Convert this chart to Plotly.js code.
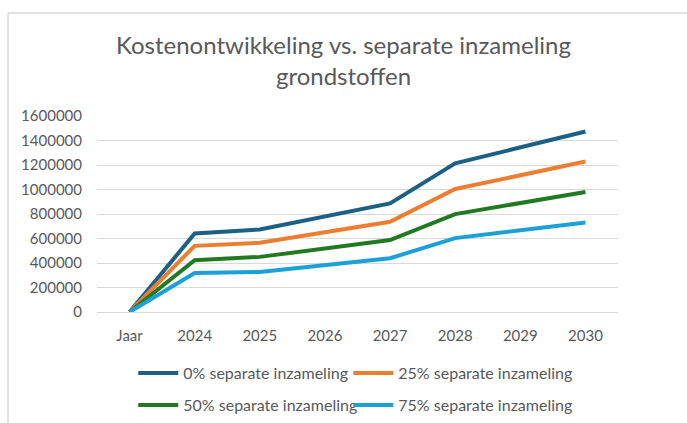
<!DOCTYPE html>
<html><head><meta charset="utf-8">
<script src="https://cdn.plot.ly/plotly-3.0.1.min.js"></script>
<style>html,body{margin:0;padding:0;background:#fff}#chart{width:687px;height:423px}</style>
</head><body><div id="chart"></div>
<script>
const categories = ["Jaar","2024","2025","2026","2027","2028","2029","2030"];
const seriesNames = ["0% separate inzameling","25% separate inzameling","50% separate inzameling","75% separate inzameling"];
const s0 = [0, 641000, 674000, 780000, 887000, 1214000, 1340000, 1473000];
const s25 = [0, 540000, 565000, 650000, 737000, 1004000, 1115000, 1228000];
const s50 = [0, 423000, 450000, 515000, 587000, 799000, 890000, 980000];
const s75 = [0, 319000, 327000, 380000, 439000, 603000, 667000, 731000];
const colors = ["#1c6184","#ed7d31","#217a21","#1ba1d8"];
const allSeries = [s0, s25, s50, s75];
const legendIds = ["legend","legend2","legend3","legend4"];
const legendPos = [[0.194,0.118],[0.507,0.118],[0.194,0.0426],[0.507,0.0426]];
const font = "Lato, 'Open Sans', sans-serif";
const traces = allSeries.map((v,i)=>({
  x: categories, y: v, type:"scatter", mode:"lines", name: seriesNames[i],
  line:{color:colors[i], width:4}, legend: legendIds[i]
}));
const layout = {
  width:687, height:423,
  margin:{l:97, r:69, t:116, b:111},
  paper_bgcolor:"#fff", plot_bgcolor:"#fff",
  title:{text:"Kostenontwikkeling vs. separate inzameling<br>grondstoffen", x:0.5, xanchor:"center", y:0.872, yanchor:"middle",
    font:{family:font, size:24, color:"#595959"}},
  xaxis:{type:"category", range:[-0.5,7.5], showgrid:false, showline:true, linecolor:"#d9d9d9", linewidth:1,
    ticks:"", ticklabelstandoff:10, automargin:false, tickfont:{family:font, size:15, color:"#595959"}, fixedrange:true},
  yaxis:{range:[0,1600000], dtick:200000, tickformat:"d", showgrid:true, gridcolor:"#d9d9d9", gridwidth:1,
    zeroline:false, ticks:"", ticklabelstandoff:14, automargin:false, tickfont:{family:font, size:15, color:"#595959"}, fixedrange:true},
  shapes:[
    {type:"line", xref:"paper", yref:"paper", x0:-0.1708, x1:1.2, y0:1.5255, y1:1.5255, line:{color:"#d9d9d9", width:1.5}},
    {type:"line", xref:"paper", yref:"paper", x0:-0.1708, x1:-0.1708, y0:1.5255, y1:-0.7, line:{color:"#d9d9d9", width:1.5}}
  ],
  showlegend:true
};
legendIds.forEach((id,i)=>{
  layout[id] = {orientation:"h", xref:"container", yref:"container", x:legendPos[i][0], y:legendPos[i][1], xanchor:"left", yanchor:"middle",
    font:{family:font, size:16, color:"#595959"}, bgcolor:"rgba(0,0,0,0)", itemwidth:40};
});
Plotly.newPlot("chart", traces, layout, {displayModeBar:false, staticPlot:true});
</script></body></html>
